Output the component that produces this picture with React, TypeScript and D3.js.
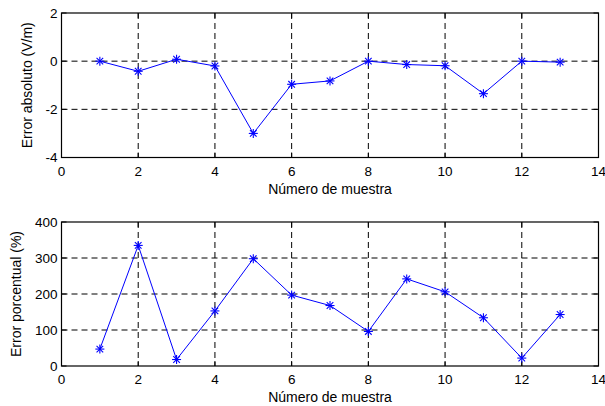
import React from "react";
import * as d3 from "d3";

// Sample numbers (x axis)
const muestras = [1, 2, 3, 4, 5, 6, 7, 8, 9, 10, 11, 12, 13];
// Absolute error per sample (V/m)
const errorAbsoluto = [0, -0.42, 0.08, -0.2, -3.0, -0.96, -0.82, 0, -0.14, -0.19, -1.35, 0, -0.04];
// Percentage error per sample (%)
const errorPorcentual = [47, 335, 18, 153, 298, 197, 168, 96, 242, 206, 134, 22, 143];

const xTicks = [0, 2, 4, 6, 8, 10, 12, 14];
const yTicksAbs = [-4, -2, 0, 2];
const yTicksPct = [0, 100, 200, 300, 400];

const FONT = "Arial, 'Liberation Sans', sans-serif";

type PanelProps = {
  top: number;
  bottom: number;
  values: number[];
  yDomain: [number, number];
  yTicks: number[];
  yLabel: string;
  yLabelX: number;
};

function Asterisk({ x, y }: { x: number; y: number }) {
  const r = 4.5;
  const d = 3.3;
  return (
    <g stroke="#0000ff" strokeWidth={1.1}>
      <line x1={x - r} y1={y} x2={x + r} y2={y} />
      <line x1={x} y1={y - r} x2={x} y2={y + r} />
      <line x1={x - d} y1={y - d} x2={x + d} y2={y + d} />
      <line x1={x - d} y1={y + d} x2={x + d} y2={y - d} />
    </g>
  );
}

function Panel({ top, bottom, values, yDomain, yTicks, yLabel, yLabelX }: PanelProps) {
  const left = 61.5;
  const right = 598.5;
  const x = d3.scaleLinear().domain([0, 14]).range([left, right]);
  const y = d3.scaleLinear().domain(yDomain).range([bottom, top]);
  const line = d3
    .line<number>()
    .x((_, i) => x(muestras[i]))
    .y((v) => y(v));
  const midY = (top + bottom) / 2;
  return (
    <g>
      {/* grid */}
      {xTicks.slice(1, -1).map((t) => (
        <line key={"gx" + t} x1={x(t)} x2={x(t)} y1={top} y2={bottom} stroke="#000" strokeWidth={1} strokeDasharray="6 4" />
      ))}
      {yTicks.slice(1, -1).map((t) => (
        <line key={"gy" + t} x1={left} x2={right} y1={y(t)} y2={y(t)} stroke="#000" strokeWidth={1} strokeDasharray="6 4" />
      ))}
      {/* frame */}
      <rect x={left} y={top} width={right - left} height={bottom - top} fill="none" stroke="#000" strokeWidth={1.2} />
      {/* inward ticks */}
      {xTicks.map((t) => (
        <g key={"tx" + t}>
          <line x1={x(t)} x2={x(t)} y1={bottom} y2={bottom - 5} stroke="#000" />
          <line x1={x(t)} x2={x(t)} y1={top} y2={top + 5} stroke="#000" />
          <text x={x(t)} y={bottom + 18} textAnchor="middle" fontSize={13.5} fontFamily={FONT} fill="#000">
            {t}
          </text>
        </g>
      ))}
      {yTicks.map((t) => (
        <g key={"ty" + t}>
          <line x1={left} x2={left + 5} y1={y(t)} y2={y(t)} stroke="#000" />
          <line x1={right} x2={right - 5} y1={y(t)} y2={y(t)} stroke="#000" />
          <text x={left - 4} y={y(t) + 4.8} textAnchor="end" fontSize={13.5} fontFamily={FONT} fill="#000">
            {t}
          </text>
        </g>
      ))}
      {/* series */}
      <path d={line(values) ?? ""} fill="none" stroke="#0000ff" strokeWidth={1} />
      {values.map((v, i) => (
        <Asterisk key={"m" + i} x={x(muestras[i])} y={y(v)} />
      ))}
      {/* labels */}
      <text x={(left + right) / 2} y={bottom + 36} textAnchor="middle" fontSize={14} fontFamily={FONT} fill="#000">
        Número de muestra
      </text>
      <text
        transform={`translate(${yLabelX},${midY}) rotate(-90)`}
        textAnchor="middle"
        fontSize={14}
        fontFamily={FONT}
        fill="#000"
      >
        {yLabel}
      </text>
    </g>
  );
}

export default function App() {
  return (
    <svg
      width={605}
      height={406}
      style={{ position: "absolute", left: 0, top: 0, background: "#fff" }}
    >
      <rect width={605} height={406} fill="#fff" />
      <Panel
        top={13}
        bottom={157.5}
        values={errorAbsoluto}
        yDomain={[-4, 2]}
        yTicks={yTicksAbs}
        yLabel="Error absoluto (V/m)"
        yLabelX={32}
      />
      <Panel
        top={222}
        bottom={366}
        values={errorPorcentual}
        yDomain={[0, 400]}
        yTicks={yTicksPct}
        yLabel="Error porcentual (%)"
        yLabelX={21}
      />
    </svg>
  );
}
